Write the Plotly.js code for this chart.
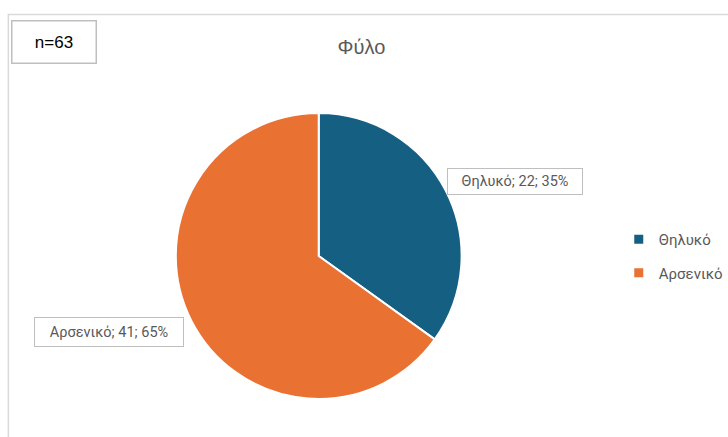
<!DOCTYPE html>
<html>
<head>
<meta charset="utf-8">
<script src="https://cdn.plot.ly/plotly-3.0.1.min.js"></script>
<style>html,body{margin:0;padding:0;background:#fff;}#chart{width:728px;height:437px;}</style>
</head>
<body>
<div id="chart"></div>
<script>
const categories = ["Θηλυκό", "Αρσενικό"];
const counts = [22, 41];
const colors = ["#156082", "#E97132"];
const chartTitle = "Φύλο";
const sampleLabel = "n=63";

const total = counts.reduce((a, b) => a + b, 0);
const labelTexts = categories.map((c, i) => c + "; " + counts[i] + "; " + Math.round(counts[i] / total * 100) + "%");

const W = 728, H = 437;
const px = x => x / W, py = y => 1 - y / H;

const pie = {
  type: "pie",
  labels: categories,
  values: counts,
  sort: false,
  direction: "clockwise",
  rotation: 0,
  marker: {colors: colors, line: {color: "#ffffff", width: 2}},
  textinfo: "none",
  showlegend: false,
  hoverinfo: "label+value+percent",
  domain: {x: [px(179), px(470)], y: [py(401.5), py(110.5)]}
};

const legendTraces = categories.map((c, i) => ({
  type: "scatter", mode: "markers", x: [null], y: [null], name: c,
  legendgroup: c, showlegend: true,
  marker: {symbol: "square", size: 9, color: colors[i]}
}));

const layout = {
  width: W, height: H,
  margin: {l: 0, r: 0, t: 0, b: 0},
  paper_bgcolor: "#ffffff",
  plot_bgcolor: "rgba(0,0,0,0)",
  xaxis: {visible: false},
  yaxis: {visible: false},
  showlegend: true,
  legend: {
    x: px(630), y: py(256), xanchor: "left", yanchor: "middle",
    font: {family: "Roboto, Open Sans, sans-serif", size: 15, color: "#595959"},
    tracegroupgap: 11, itemwidth: 30
  },
  title: {
    text: chartTitle,
    x: px(368), xanchor: "center", xref: "paper",
    y: py(47), yanchor: "middle", yref: "paper",
    font: {family: "Liberation Sans, Arial, sans-serif", size: 20, color: "#595959"}
  },
  shapes: [
    {type: "rect", xref: "paper", yref: "paper", x0: px(8.5), x1: 1.2, y0: -0.2, y1: py(14.5),
     line: {color: "#D9D9D9", width: 1.5}, fillcolor: "rgba(0,0,0,0)"}
  ],
  annotations: [
    {text: sampleLabel, xref: "paper", yref: "paper", x: px(55), y: py(42), xanchor: "center", yanchor: "middle",
     showarrow: false, font: {family: "Liberation Sans, Arial, sans-serif", size: 17, color: "#000000"},
     bordercolor: "#BFBFBF", borderwidth: 1.5, borderpad: 0, width: 83, height: 41, bgcolor: "#ffffff"},
    {text: labelTexts[0], xref: "paper", yref: "paper", x: px(524), y: py(181), xanchor: "center", yanchor: "middle",
     showarrow: false, font: {family: "Roboto, sans-serif", size: 14.5, color: "#595959"},
     bordercolor: "#BFBFBF", borderwidth: 1, borderpad: 0, width: 134, height: 25, bgcolor: "#ffffff"},
    {text: labelTexts[1], xref: "paper", yref: "paper", x: px(111), y: py(332), xanchor: "center", yanchor: "middle",
     showarrow: false, font: {family: "Roboto, sans-serif", size: 14.5, color: "#595959"},
     bordercolor: "#BFBFBF", borderwidth: 1, borderpad: 0, width: 148, height: 28, bgcolor: "#ffffff"}
  ]
};

Plotly.newPlot("chart", [pie].concat(legendTraces), layout, {displayModeBar: false, staticPlot: true});
</script>
</body>
</html>
